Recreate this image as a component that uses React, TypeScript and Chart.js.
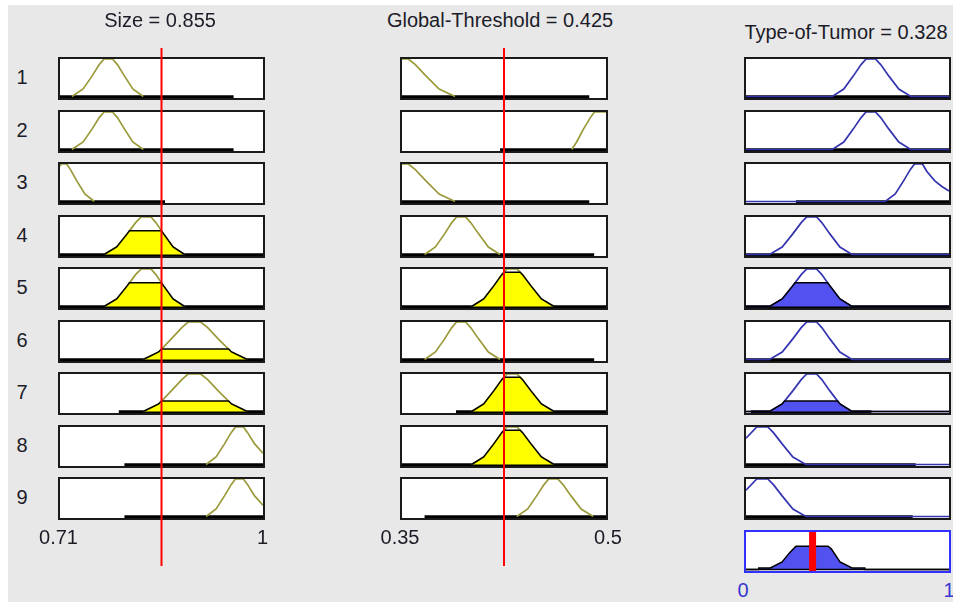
import React, { useEffect, useRef } from "react";
import { Chart, registerables } from "chart.js";
Chart.register(...registerables);

// ---------- data ----------
const sizeRange = [0.71, 1];
const gtRange = [0.35, 0.5];
const outRange = [0, 1];
const sizeInput = 0.855;
const gtInput = 0.425;
const outValue = 0.328;
const titles = ["Size = 0.855", "Global-Threshold = 0.425", "Type-of-Tumor = 0.328"];
const ruleLabels = ["1", "2", "3", "4", "5", "6", "7", "8", "9"];
const sizeTicks = ["0.71", "1"];
const gtTicks = ["0.35", "0.5"];
const outTicks = ["0", "1"];

// membership functions (x, mu)
const sizeMF_A = [[0.727, 0], [0.743, 0.2], [0.756, 0.55], [0.766, 0.85], [0.773, 1], [0.785, 1], [0.792, 0.85], [0.802, 0.55], [0.814, 0.2], [0.829, 0]];
const sizeMF_B = [[0.71, 0.95], [0.712, 1], [0.7195, 1], [0.725, 0.85], [0.734, 0.55], [0.7455, 0.2], [0.759, 0]];
const sizeMF_C = [[0.773, 0], [0.791, 0.2], [0.806, 0.55], [0.818, 0.85], [0.826, 1], [0.84, 1], [0.847, 0.85], [0.858, 0.55], [0.8715, 0.2], [0.888, 0]];
const sizeMF_D = [[0.829, 0], [0.851, 0.2], [0.869, 0.55], [0.884, 0.85], [0.893, 1], [0.911, 1], [0.921, 0.85], [0.936, 0.55], [0.955, 0.2], [0.9775, 0]];
const sizeMF_E = [[0.9187, 0], [0.933, 0.2], [0.945, 0.55], [0.9545, 0.85], [0.9607, 1], [0.972, 1], [0.978, 0.85], [0.988, 0.55], [1, 0.3]];

const gtMF_F = [[0.35, 1], [0.3547, 1], [0.3598, 0.85], [0.3676, 0.55], [0.3773, 0.2], [0.389, 0]];
const gtMF_G = [[0.4748, 0], [0.4784, 0.2], [0.4835, 0.55], [0.4885, 0.85], [0.4915, 1], [0.5, 1]];
const gtMF_H = [[0.3666, 0], [0.3746, 0.2], [0.3813, 0.55], [0.3866, 0.85], [0.3901, 1], [0.3968, 1], [0.4005, 0.85], [0.4063, 0.55], [0.4135, 0.2], [0.4221, 0]];
const gtMF_I = [[0.4012, 0], [0.4101, 0.2], [0.4175, 0.55], [0.4234, 0.85], [0.4272, 1], [0.4345, 1], [0.4386, 0.85], [0.4448, 0.55], [0.4525, 0.2], [0.4618, 0]];
const gtMF_J = [[0.4344, 0], [0.4424, 0.2], [0.449, 0.55], [0.4544, 0.85], [0.4578, 1], [0.4646, 1], [0.4684, 0.85], [0.4743, 0.55], [0.4817, 0.2], [0.4906, 0]];

const outMF_K = [[0, 0], [0.425, 0], [0.4817, 0.2], [0.529, 0.55], [0.5668, 0.85], [0.5913, 1], [0.6378, 1], [0.6635, 0.85], [0.7031, 0.55], [0.7526, 0.2], [0.812, 0], [1, 0]];
const outMF_L = [[0, 0], [0.686, 0], [0.7352, 0.2], [0.7762, 0.55], [0.809, 0.85], [0.8303, 1], [0.8697, 1], [0.891, 0.8], [0.93, 0.55], [0.965, 0.4], [1, 0.28]];
const outMF_M = [[0, 0], [0.116, 0], [0.1784, 0.2], [0.2304, 0.55], [0.272, 0.85], [0.299, 1], [0.3478, 1], [0.3735, 0.85], [0.4131, 0.55], [0.4626, 0.2], [0.522, 0], [1, 0]];
const outMF_N = [[0, 0.7], [0.053, 1], [0.1075, 1], [0.135, 0.85], [0.178, 0.55], [0.231, 0.2], [0.295, 0], [1, 0]];

const sizeMFs = [sizeMF_A, sizeMF_B, sizeMF_C, sizeMF_D, sizeMF_E];
const gtMFs = [gtMF_F, gtMF_G, gtMF_H, gtMF_I, gtMF_J];
const outMFs = [outMF_K, outMF_L, outMF_M, outMF_N];

// rule table: which MF each rule uses
const sizeRuleMF = [0, 0, 1, 2, 2, 3, 3, 4, 4];
const gtRuleMF = [0, 1, 0, 2, 3, 2, 3, 3, 4];
const outRuleMF = [0, 0, 1, 2, 2, 2, 2, 3, 3];

// thick black base segments per rule row
const sizeBars = [[[0.71, 0.958]], [[0.71, 0.958]], [[0.71, 0.86]], [[0.71, 1]], [[0.71, 1]], [[0.71, 1]], [[0.794, 1]], [[0.802, 1]], [[0.802, 1]]];
const gtBars = [[[0.35, 0.4877]], [[0.4221, 0.5]], [[0.35, 0.4877]], [[0.35, 0.4913]], [[0.35, 0.5]], [[0.35, 0.4913]], [[0.3897, 0.5]], [[0.35, 0.5]], [[0.3666, 0.5]]];
const outBars = [[[0, 1]], [[0, 1]], [[0.246, 1]], [[0, 1]], [[0, 1]], [[0, 1]], [[0.024, 0.618]], [[0, 0.836]], [[0, 0.821]]];

// aggregated output
const aggregateCurve = [[0, 0], [0.015, 0], [0.063, 0], [0.063, 0.04], [0.12, 0.04], [0.178, 0.2], [0.215, 0.45], [0.246, 0.62], [0.404, 0.62], [0.42, 0.55], [0.463, 0.2], [0.522, 0.04], [0.585, 0.04], [0.585, 0], [1, 0]];

// ---------- helpers ----------
function muAt(pts: number[][], x: number) {
  for (let i = 1; i < pts.length; i++) {
    const [x0, y0] = pts[i - 1];
    const [x1, y1] = pts[i];
    if (x >= x0 && x <= x1 && x1 > x0) return y0 + ((x - x0) / (x1 - x0)) * (y1 - y0);
  }
  return 0;
}
function clipAt(pts: number[][], level: number) {
  const out: { x: number; y: number }[] = [];
  for (let i = 0; i < pts.length; i++) {
    const [x, y] = pts[i];
    if (i > 0) {
      const [px, py] = pts[i - 1];
      if ((py - level) * (y - level) < 0) {
        const t = (level - py) / (y - py);
        out.push({ x: px + t * (x - px), y: level });
      }
    }
    out.push({ x, y: Math.min(y, level) });
  }
  return out;
}
const toXY = (pts: number[][]) => pts.map(([x, y]) => ({ x, y }));

const FONT = '"Liberation Sans", Arial, Helvetica, sans-serif';
const OLIVE = "#9a9a3a";
const YELLOW = "#ffff00";
const BLUE_LINE = "#3434b0";
const BLUE_FILL = "#5252f0";
const BOX = "#1a1a1a";

const colLeft = [58, 400, 744];
const colWidth = [207, 208, 207];
const rowTop = (k: number) => Math.round(57 + 52.5 * k);
const BOX_H = 43;
const BW = 2;
const Y_MIN = -0.04;
const BAR_Y = -0.03;

type MiniProps = {
  left: number; top: number; width: number; height: number;
  border?: string; bw?: number; xMin: number; xMax: number; yMin: number; yMax: number;
  datasets: any[]; z?: number;
};

function MiniChart(p: MiniProps) {
  const ref = useRef<HTMLCanvasElement>(null);
  const bw = p.bw ?? 0;
  useEffect(() => {
    const chart = new Chart(ref.current!, {
      type: "scatter",
      data: { datasets: p.datasets },
      options: {
        responsive: false,
        maintainAspectRatio: false,
        animation: false,
        events: [],
        layout: { padding: 0 },
        plugins: { legend: { display: false }, tooltip: { enabled: false }, title: { display: false } },
        elements: { point: { radius: 0, hoverRadius: 0 }, line: { tension: 0 } },
        scales: {
          x: { type: "linear", display: false, min: p.xMin, max: p.xMax },
          y: { type: "linear", display: false, min: p.yMin, max: p.yMax },
        },
      },
    });
    return () => chart.destroy();
  }, []);
  return (
    <div
      style={{
        position: "absolute", left: p.left, top: p.top, width: p.width, height: p.height,
        boxSizing: "border-box", border: p.border ? `${bw}px solid ${p.border}` : undefined,
        background: p.border ? "#ffffff" : "transparent", zIndex: p.z ?? 1, pointerEvents: "none",
      }}
    >
      <canvas ref={ref} width={p.width - 2 * bw} height={p.height - 2 * bw} style={{ display: "block" }} />
    </div>
  );
}

function Label(props: { text: string; cx: number; top: number; size?: number; color?: string; weight?: number }) {
  return (
    <div
      style={{
        position: "absolute", left: props.cx, top: props.top, transform: "translateX(-50%)",
        fontFamily: FONT, fontSize: props.size ?? 20, lineHeight: `${props.size ?? 20}px`,
        color: props.color ?? "#1c1c28", whiteSpace: "nowrap", fontWeight: props.weight ?? 400, zIndex: 5,
      }}
    >
      {props.text}
    </div>
  );
}

function barSets(bars: number[][]) {
  return bars.map(([a, b]) => ({
    data: [{ x: a, y: BAR_Y }, { x: b, y: BAR_Y }], showLine: true, borderColor: "#000000", borderWidth: 5,
    fill: false, order: 4, pointRadius: 0, clip: 0,
  }));
}

function inputSets(mf: number[][], level: number, bars: number[][]) {
  const sets: any[] = [...barSets(bars)];
  sets.push({ data: toXY(mf), showLine: true, borderColor: OLIVE, borderWidth: 1.7, fill: false, order: 2, pointRadius: 0 });
  if (level > 0.001) {
    sets.push({
      data: clipAt(mf, level), showLine: true, borderColor: "#000000", borderWidth: 1.5,
      backgroundColor: YELLOW, fill: "origin", order: 1, pointRadius: 0,
    });
  }
  return sets;
}

function outputSets(mf: number[][], level: number, bars: number[][]) {
  const sets: any[] = [...barSets(bars)];
  sets.push({ data: toXY(mf), showLine: true, borderColor: BLUE_LINE, borderWidth: 1.7, fill: false, order: 2, pointRadius: 0 });
  if (level > 0.001) {
    sets.push({
      data: clipAt(mf, level), showLine: true, borderColor: "#000000", borderWidth: 1.5,
      backgroundColor: BLUE_FILL, fill: "origin", order: 1, pointRadius: 0,
    });
  }
  return sets;
}

export default function App() {
  useEffect(() => {
    document.body.style.margin = "0";
    document.body.style.overflow = "hidden";
  }, []);

  const sizeLevels = sizeRuleMF.map((m) => muAt(sizeMFs[m], sizeInput));
  const gtLevels = gtRuleMF.map((m) => muAt(gtMFs[m], gtInput));
  const outLevels = sizeLevels.map((s, i) => Math.min(s, gtLevels[i]));

  const panels: React.ReactNode[] = [];
  ruleLabels.forEach((lab, i) => {
    const top = rowTop(i);
    panels.push(<Label key={"r" + i} text={lab} cx={22} top={top + 10} />);
    panels.push(
      <MiniChart key={"s" + i} left={colLeft[0]} top={top} width={colWidth[0]} height={BOX_H} border={BOX} bw={BW}
        xMin={sizeRange[0]} xMax={sizeRange[1]} yMin={Y_MIN} yMax={1}
        datasets={inputSets(sizeMFs[sizeRuleMF[i]], sizeLevels[i], sizeBars[i])} />
    );
    panels.push(
      <MiniChart key={"g" + i} left={colLeft[1]} top={top} width={colWidth[1]} height={BOX_H} border={BOX} bw={BW}
        xMin={gtRange[0]} xMax={gtRange[1]} yMin={Y_MIN} yMax={1}
        datasets={inputSets(gtMFs[gtRuleMF[i]], gtLevels[i], gtBars[i])} />
    );
    panels.push(
      <MiniChart key={"o" + i} left={colLeft[2]} top={top} width={colWidth[2]} height={BOX_H} border={BOX} bw={BW}
        xMin={outRange[0]} xMax={outRange[1]} yMin={Y_MIN} yMax={1}
        datasets={outputSets(outMFs[outRuleMF[i]], outLevels[i], outBars[i])} />
    );
  });

  const aggTop = rowTop(9);
  const aggSets = [
    { data: [{ x: outValue, y: -0.2 }, { x: outValue, y: 1.2 }], showLine: true, borderColor: "#ff0000", borderWidth: 7, fill: false, order: 0, pointRadius: 0 },
    { data: [{ x: 0, y: 0 }, { x: 1, y: 0 }], showLine: true, borderColor: "#000000", borderWidth: 1.5, fill: false, order: 1, pointRadius: 0 },
    { data: toXY(aggregateCurve), showLine: true, borderColor: "#000000", borderWidth: 1.5, backgroundColor: BLUE_FILL, fill: "origin", order: 2, pointRadius: 0 },
  ];

  const redTop = 48;
  const redH = 518;

  return (
    <div style={{ position: "relative", width: 953, height: 602, overflow: "hidden", background: "#ffffff" }}>
      <div style={{ position: "absolute", left: 8, top: 5, width: 945, height: 597, background: "#e8e8e8" }} />
      <Label text={titles[0]} cx={160} top={10} />
      <Label text={titles[1]} cx={500} top={10} />
      <Label text={titles[2]} cx={846} top={22} />
      {panels}
      <MiniChart left={colLeft[2]} top={aggTop} width={colWidth[2]} height={BOX_H} border="#3030ff" bw={BW}
        xMin={outRange[0]} xMax={outRange[1]} yMin={Y_MIN} yMax={1} datasets={aggSets} />
      {/* input value lines */}
      <MiniChart left={colLeft[0] + BW} top={redTop} width={colWidth[0] - 2 * BW} height={redH} z={4}
        xMin={sizeRange[0]} xMax={sizeRange[1]} yMin={0} yMax={1}
        datasets={[{ data: [{ x: sizeInput, y: 0 }, { x: sizeInput, y: 1 }], showLine: true, borderColor: "#ff0000", borderWidth: 2, fill: false, pointRadius: 0 }]} />
      <MiniChart left={colLeft[1] + BW} top={redTop} width={colWidth[1] - 2 * BW} height={redH} z={4}
        xMin={gtRange[0]} xMax={gtRange[1]} yMin={0} yMax={1}
        datasets={[{ data: [{ x: gtInput, y: 0 }, { x: gtInput, y: 1 }], showLine: true, borderColor: "#ff0000", borderWidth: 2, fill: false, pointRadius: 0 }]} />
      <Label text={sizeTicks[0]} cx={58.5} top={527} />
      <Label text={sizeTicks[1]} cx={262.5} top={527} />
      <Label text={gtTicks[0]} cx={400} top={527} />
      <Label text={gtTicks[1]} cx={608} top={527} />
      <Label text={outTicks[0]} cx={743} top={580} color="#3838d0" />
      <Label text={outTicks[1]} cx={949} top={580} color="#3838d0" />
    </div>
  );
}
